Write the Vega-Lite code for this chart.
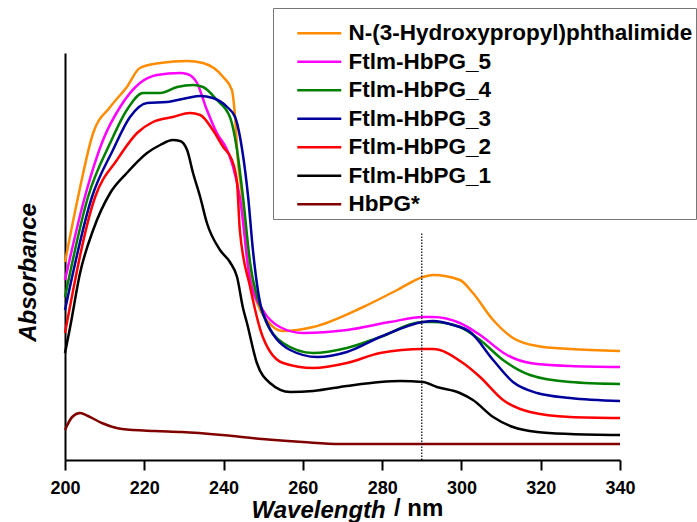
{
  "$schema": "https://vega.github.io/schema/vega-lite/v6.json",
  "width": 555,
  "height": 407,
  "autosize": "none",
  "padding": {"left": 65, "top": 53, "right": 77, "bottom": 62},
  "background": "white",
  "title": {
    "text": "/ nm",
    "orient": "bottom",
    "anchor": "start",
    "frame": "group",
    "dx": 329,
    "offset": -6,
    "baseline": "alphabetic",
    "font": "Liberation Sans",
    "fontSize": 24,
    "fontWeight": "bold",
    "fontStyle": "normal",
    "color": "black"
  },
  "config": {
    "view": {"stroke": null},
    "axis": {"grid": false, "domainColor": "black", "domainWidth": 2, "tickColor": "black", "tickWidth": 2,
      "labelFont": "Liberation Sans", "labelFontSize": 18, "labelFontWeight": "bold", "labelColor": "black",
      "titleFont": "Liberation Sans", "titleFontSize": 24, "titleFontWeight": "bold", "titleFontStyle": "italic", "titleColor": "black"}
  },
  "datasets": {
    "spectra": [
      {"s": "N-(3-Hydroxypropyl)phthalimide", "w": 200, "a": 0.99},
      {"s": "N-(3-Hydroxypropyl)phthalimide", "w": 203.3, "a": 1.315},
      {"s": "N-(3-Hydroxypropyl)phthalimide", "w": 207.1, "a": 1.635},
      {"s": "N-(3-Hydroxypropyl)phthalimide", "w": 211.4, "a": 1.765},
      {"s": "N-(3-Hydroxypropyl)phthalimide", "w": 215.6, "a": 1.865},
      {"s": "N-(3-Hydroxypropyl)phthalimide", "w": 218.9, "a": 1.96},
      {"s": "N-(3-Hydroxypropyl)phthalimide", "w": 224.0, "a": 1.985},
      {"s": "N-(3-Hydroxypropyl)phthalimide", "w": 230.8, "a": 1.995},
      {"s": "N-(3-Hydroxypropyl)phthalimide", "w": 234.8, "a": 1.985},
      {"s": "N-(3-Hydroxypropyl)phthalimide", "w": 239.9, "a": 1.915},
      {"s": "N-(3-Hydroxypropyl)phthalimide", "w": 242.1, "a": 1.85},
      {"s": "N-(3-Hydroxypropyl)phthalimide", "w": 242.9, "a": 1.715},
      {"s": "N-(3-Hydroxypropyl)phthalimide", "w": 243.6, "a": 1.5},
      {"s": "N-(3-Hydroxypropyl)phthalimide", "w": 244.7, "a": 1.315},
      {"s": "N-(3-Hydroxypropyl)phthalimide", "w": 245.9, "a": 1.015},
      {"s": "N-(3-Hydroxypropyl)phthalimide", "w": 247.4, "a": 0.85},
      {"s": "N-(3-Hydroxypropyl)phthalimide", "w": 248.4, "a": 0.79},
      {"s": "N-(3-Hydroxypropyl)phthalimide", "w": 252.5, "a": 0.665},
      {"s": "N-(3-Hydroxypropyl)phthalimide", "w": 255.0, "a": 0.645},
      {"s": "N-(3-Hydroxypropyl)phthalimide", "w": 262.6, "a": 0.665},
      {"s": "N-(3-Hydroxypropyl)phthalimide", "w": 275.2, "a": 0.765},
      {"s": "N-(3-Hydroxypropyl)phthalimide", "w": 283.8, "a": 0.85},
      {"s": "N-(3-Hydroxypropyl)phthalimide", "w": 290.3, "a": 0.915},
      {"s": "N-(3-Hydroxypropyl)phthalimide", "w": 292.8, "a": 0.925},
      {"s": "N-(3-Hydroxypropyl)phthalimide", "w": 299.6, "a": 0.9},
      {"s": "N-(3-Hydroxypropyl)phthalimide", "w": 302.9, "a": 0.835},
      {"s": "N-(3-Hydroxypropyl)phthalimide", "w": 308.0, "a": 0.7},
      {"s": "N-(3-Hydroxypropyl)phthalimide", "w": 313.0, "a": 0.61},
      {"s": "N-(3-Hydroxypropyl)phthalimide", "w": 319.1, "a": 0.57},
      {"s": "N-(3-Hydroxypropyl)phthalimide", "w": 327.4, "a": 0.555},
      {"s": "N-(3-Hydroxypropyl)phthalimide", "w": 340, "a": 0.545},

      {"s": "Ftlm-HbPG_5", "w": 200, "a": 0.9},
      {"s": "Ftlm-HbPG_5", "w": 205.0, "a": 1.315},
      {"s": "Ftlm-HbPG_5", "w": 209.6, "a": 1.6},
      {"s": "Ftlm-HbPG_5", "w": 213.9, "a": 1.765},
      {"s": "Ftlm-HbPG_5", "w": 218.9, "a": 1.885},
      {"s": "Ftlm-HbPG_5", "w": 223.2, "a": 1.925},
      {"s": "Ftlm-HbPG_5", "w": 229.0, "a": 1.935},
      {"s": "Ftlm-HbPG_5", "w": 230.8, "a": 1.93},
      {"s": "Ftlm-HbPG_5", "w": 233.3, "a": 1.885},
      {"s": "Ftlm-HbPG_5", "w": 235.8, "a": 1.75},
      {"s": "Ftlm-HbPG_5", "w": 238.3, "a": 1.635},
      {"s": "Ftlm-HbPG_5", "w": 240.9, "a": 1.55},
      {"s": "Ftlm-HbPG_5", "w": 242.4, "a": 1.465},
      {"s": "Ftlm-HbPG_5", "w": 244.1, "a": 1.315},
      {"s": "Ftlm-HbPG_5", "w": 246.7, "a": 0.9},
      {"s": "Ftlm-HbPG_5", "w": 249.9, "a": 0.75},
      {"s": "Ftlm-HbPG_5", "w": 254.2, "a": 0.665},
      {"s": "Ftlm-HbPG_5", "w": 260.0, "a": 0.635},
      {"s": "Ftlm-HbPG_5", "w": 271.1, "a": 0.65},
      {"s": "Ftlm-HbPG_5", "w": 282.0, "a": 0.69},
      {"s": "Ftlm-HbPG_5", "w": 290.3, "a": 0.715},
      {"s": "Ftlm-HbPG_5", "w": 292.8, "a": 0.715},
      {"s": "Ftlm-HbPG_5", "w": 299.6, "a": 0.685},
      {"s": "Ftlm-HbPG_5", "w": 304.7, "a": 0.625},
      {"s": "Ftlm-HbPG_5", "w": 311.5, "a": 0.525},
      {"s": "Ftlm-HbPG_5", "w": 317.3, "a": 0.485},
      {"s": "Ftlm-HbPG_5", "w": 327.4, "a": 0.47},
      {"s": "Ftlm-HbPG_5", "w": 340, "a": 0.465},

      {"s": "Ftlm-HbPG_4", "w": 200, "a": 0.815},
      {"s": "Ftlm-HbPG_4", "w": 205.8, "a": 1.315},
      {"s": "Ftlm-HbPG_4", "w": 211.4, "a": 1.585},
      {"s": "Ftlm-HbPG_4", "w": 215.6, "a": 1.75},
      {"s": "Ftlm-HbPG_4", "w": 219.7, "a": 1.835},
      {"s": "Ftlm-HbPG_4", "w": 224.0, "a": 1.835},
      {"s": "Ftlm-HbPG_4", "w": 228.3, "a": 1.865},
      {"s": "Ftlm-HbPG_4", "w": 232.3, "a": 1.875},
      {"s": "Ftlm-HbPG_4", "w": 234.8, "a": 1.865},
      {"s": "Ftlm-HbPG_4", "w": 238.3, "a": 1.8},
      {"s": "Ftlm-HbPG_4", "w": 241.6, "a": 1.715},
      {"s": "Ftlm-HbPG_4", "w": 243.4, "a": 1.55},
      {"s": "Ftlm-HbPG_4", "w": 244.9, "a": 1.315},
      {"s": "Ftlm-HbPG_4", "w": 246.7, "a": 0.985},
      {"s": "Ftlm-HbPG_4", "w": 249.9, "a": 0.735},
      {"s": "Ftlm-HbPG_4", "w": 255.0, "a": 0.585},
      {"s": "Ftlm-HbPG_4", "w": 262.6, "a": 0.535},
      {"s": "Ftlm-HbPG_4", "w": 271.1, "a": 0.56},
      {"s": "Ftlm-HbPG_4", "w": 279.5, "a": 0.615},
      {"s": "Ftlm-HbPG_4", "w": 290.3, "a": 0.69},
      {"s": "Ftlm-HbPG_4", "w": 292.8, "a": 0.69},
      {"s": "Ftlm-HbPG_4", "w": 299.6, "a": 0.665},
      {"s": "Ftlm-HbPG_4", "w": 304.7, "a": 0.6},
      {"s": "Ftlm-HbPG_4", "w": 310.5, "a": 0.5},
      {"s": "Ftlm-HbPG_4", "w": 317.3, "a": 0.425},
      {"s": "Ftlm-HbPG_4", "w": 327.4, "a": 0.39},
      {"s": "Ftlm-HbPG_4", "w": 340, "a": 0.38},

      {"s": "Ftlm-HbPG_3", "w": 200, "a": 0.75},
      {"s": "Ftlm-HbPG_3", "w": 206.8, "a": 1.315},
      {"s": "Ftlm-HbPG_3", "w": 212.1, "a": 1.55},
      {"s": "Ftlm-HbPG_3", "w": 216.4, "a": 1.715},
      {"s": "Ftlm-HbPG_3", "w": 220.7, "a": 1.785},
      {"s": "Ftlm-HbPG_3", "w": 225.7, "a": 1.79},
      {"s": "Ftlm-HbPG_3", "w": 230.8, "a": 1.81},
      {"s": "Ftlm-HbPG_3", "w": 234.1, "a": 1.82},
      {"s": "Ftlm-HbPG_3", "w": 237.3, "a": 1.81},
      {"s": "Ftlm-HbPG_3", "w": 240.9, "a": 1.765},
      {"s": "Ftlm-HbPG_3", "w": 242.9, "a": 1.715},
      {"s": "Ftlm-HbPG_3", "w": 244.7, "a": 1.55},
      {"s": "Ftlm-HbPG_3", "w": 246.2, "a": 1.315},
      {"s": "Ftlm-HbPG_3", "w": 247.4, "a": 1.05},
      {"s": "Ftlm-HbPG_3", "w": 249.9, "a": 0.735},
      {"s": "Ftlm-HbPG_3", "w": 256.8, "a": 0.55},
      {"s": "Ftlm-HbPG_3", "w": 263.6, "a": 0.515},
      {"s": "Ftlm-HbPG_3", "w": 271.1, "a": 0.54},
      {"s": "Ftlm-HbPG_3", "w": 279.5, "a": 0.615},
      {"s": "Ftlm-HbPG_3", "w": 290.3, "a": 0.69},
      {"s": "Ftlm-HbPG_3", "w": 292.8, "a": 0.695},
      {"s": "Ftlm-HbPG_3", "w": 297.9, "a": 0.675},
      {"s": "Ftlm-HbPG_3", "w": 302.2, "a": 0.64},
      {"s": "Ftlm-HbPG_3", "w": 308.0, "a": 0.5},
      {"s": "Ftlm-HbPG_3", "w": 313.0, "a": 0.39},
      {"s": "Ftlm-HbPG_3", "w": 319.1, "a": 0.335},
      {"s": "Ftlm-HbPG_3", "w": 327.4, "a": 0.31},
      {"s": "Ftlm-HbPG_3", "w": 340, "a": 0.295},

      {"s": "Ftlm-HbPG_2", "w": 200, "a": 0.635},
      {"s": "Ftlm-HbPG_2", "w": 207.6, "a": 1.315},
      {"s": "Ftlm-HbPG_2", "w": 213.1, "a": 1.5},
      {"s": "Ftlm-HbPG_2", "w": 218.2, "a": 1.635},
      {"s": "Ftlm-HbPG_2", "w": 222.2, "a": 1.69},
      {"s": "Ftlm-HbPG_2", "w": 227.2, "a": 1.715},
      {"s": "Ftlm-HbPG_2", "w": 231.5, "a": 1.735},
      {"s": "Ftlm-HbPG_2", "w": 234.1, "a": 1.725},
      {"s": "Ftlm-HbPG_2", "w": 237.3, "a": 1.65},
      {"s": "Ftlm-HbPG_2", "w": 239.9, "a": 1.565},
      {"s": "Ftlm-HbPG_2", "w": 242.1, "a": 1.5},
      {"s": "Ftlm-HbPG_2", "w": 243.4, "a": 1.385},
      {"s": "Ftlm-HbPG_2", "w": 244.1, "a": 1.15},
      {"s": "Ftlm-HbPG_2", "w": 246.7, "a": 0.865},
      {"s": "Ftlm-HbPG_2", "w": 249.9, "a": 0.615},
      {"s": "Ftlm-HbPG_2", "w": 255.0, "a": 0.485},
      {"s": "Ftlm-HbPG_2", "w": 262.6, "a": 0.46},
      {"s": "Ftlm-HbPG_2", "w": 271.1, "a": 0.485},
      {"s": "Ftlm-HbPG_2", "w": 279.5, "a": 0.535},
      {"s": "Ftlm-HbPG_2", "w": 290.3, "a": 0.555},
      {"s": "Ftlm-HbPG_2", "w": 292.8, "a": 0.555},
      {"s": "Ftlm-HbPG_2", "w": 300.4, "a": 0.485},
      {"s": "Ftlm-HbPG_2", "w": 304.7, "a": 0.415},
      {"s": "Ftlm-HbPG_2", "w": 310.5, "a": 0.3},
      {"s": "Ftlm-HbPG_2", "w": 317.3, "a": 0.24},
      {"s": "Ftlm-HbPG_2", "w": 327.4, "a": 0.215},
      {"s": "Ftlm-HbPG_2", "w": 340, "a": 0.21},

      {"s": "Ftlm-HbPG_1", "w": 200, "a": 0.535},
      {"s": "Ftlm-HbPG_1", "w": 201.3, "a": 0.665},
      {"s": "Ftlm-HbPG_1", "w": 203.8, "a": 0.935},
      {"s": "Ftlm-HbPG_1", "w": 207.1, "a": 1.15},
      {"s": "Ftlm-HbPG_1", "w": 211.4, "a": 1.335},
      {"s": "Ftlm-HbPG_1", "w": 215.6, "a": 1.435},
      {"s": "Ftlm-HbPG_1", "w": 220.7, "a": 1.535},
      {"s": "Ftlm-HbPG_1", "w": 224.0, "a": 1.575},
      {"s": "Ftlm-HbPG_1", "w": 227.2, "a": 1.6},
      {"s": "Ftlm-HbPG_1", "w": 229.0, "a": 1.595},
      {"s": "Ftlm-HbPG_1", "w": 230.8, "a": 1.55},
      {"s": "Ftlm-HbPG_1", "w": 232.3, "a": 1.435},
      {"s": "Ftlm-HbPG_1", "w": 234.1, "a": 1.315},
      {"s": "Ftlm-HbPG_1", "w": 235.8, "a": 1.185},
      {"s": "Ftlm-HbPG_1", "w": 239.1, "a": 1.05},
      {"s": "Ftlm-HbPG_1", "w": 241.6, "a": 0.99},
      {"s": "Ftlm-HbPG_1", "w": 243.4, "a": 0.915},
      {"s": "Ftlm-HbPG_1", "w": 244.9, "a": 0.76},
      {"s": "Ftlm-HbPG_1", "w": 245.9, "a": 0.685},
      {"s": "Ftlm-HbPG_1", "w": 248.4, "a": 0.485},
      {"s": "Ftlm-HbPG_1", "w": 251.7, "a": 0.385},
      {"s": "Ftlm-HbPG_1", "w": 256.8, "a": 0.34},
      {"s": "Ftlm-HbPG_1", "w": 262.6, "a": 0.345},
      {"s": "Ftlm-HbPG_1", "w": 271.1, "a": 0.37},
      {"s": "Ftlm-HbPG_1", "w": 279.5, "a": 0.39},
      {"s": "Ftlm-HbPG_1", "w": 284.5, "a": 0.395},
      {"s": "Ftlm-HbPG_1", "w": 290.3, "a": 0.39},
      {"s": "Ftlm-HbPG_1", "w": 293.8, "a": 0.365},
      {"s": "Ftlm-HbPG_1", "w": 299.6, "a": 0.335},
      {"s": "Ftlm-HbPG_1", "w": 302.9, "a": 0.3},
      {"s": "Ftlm-HbPG_1", "w": 308.0, "a": 0.215},
      {"s": "Ftlm-HbPG_1", "w": 313.0, "a": 0.165},
      {"s": "Ftlm-HbPG_1", "w": 319.1, "a": 0.14},
      {"s": "Ftlm-HbPG_1", "w": 327.4, "a": 0.13},
      {"s": "Ftlm-HbPG_1", "w": 340, "a": 0.125},

      {"s": "HbPG*", "w": 200, "a": 0.15},
      {"s": "HbPG*", "w": 201.8, "a": 0.215},
      {"s": "HbPG*", "w": 203.8, "a": 0.235},
      {"s": "HbPG*", "w": 205.8, "a": 0.22},
      {"s": "HbPG*", "w": 209.3, "a": 0.185},
      {"s": "HbPG*", "w": 214.4, "a": 0.155},
      {"s": "HbPG*", "w": 222.7, "a": 0.145},
      {"s": "HbPG*", "w": 229.5, "a": 0.14},
      {"s": "HbPG*", "w": 239.6, "a": 0.125},
      {"s": "HbPG*", "w": 249.7, "a": 0.105},
      {"s": "HbPG*", "w": 260.0, "a": 0.09},
      {"s": "HbPG*", "w": 269.4, "a": 0.08},
      {"s": "HbPG*", "w": 277.7, "a": 0.08},
      {"s": "HbPG*", "w": 340, "a": 0.08}
    ],
    "marker": [{"w": 290, "a": 0, "a2": 1.135}]
  },
  "layer": [
    {
      "data": {"name": "spectra"},
      "mark": {"type": "line", "strokeWidth": 2.5, "interpolate": "monotone"},
      "encoding": {
        "x": {
          "field": "w", "type": "quantitative",
          "scale": {"domain": [200, 340], "nice": false, "zero": false},
          "axis": {
            "title": "Wavelength",
            "titleX": 186, "titleY": 57, "titleAlign": "left", "titleBaseline": "alphabetic",
            "values": [200, 210, 220, 230, 240, 250, 260, 270, 280, 290, 300, 310, 320, 330, 340],
            "labelExpr": "datum.value % 20 == 0 ? datum.label : ''",
            "tickSize": {"condition": {"test": "datum.value % 20 == 0", "value": 10}, "value": 6},
            "labelPadding": 9,
            "labelFlush": false,
            "labelOverlap": false
          }
        },
        "y": {
          "field": "a", "type": "quantitative",
          "scale": {"domain": [0, 2.035], "nice": false},
          "axis": {
            "title": "Absorbance", "ticks": false, "labels": false,
            "titleAngle": -90, "titleX": -30, "titleY": 219, "titleAlign": "center", "titleBaseline": "alphabetic"
          }
        },
        "color": {
          "field": "s", "type": "nominal",
          "scale": {
            "domain": ["N-(3-Hydroxypropyl)phthalimide", "Ftlm-HbPG_5", "Ftlm-HbPG_4", "Ftlm-HbPG_3", "Ftlm-HbPG_2", "Ftlm-HbPG_1", "HbPG*"],
            "range": ["#ff8c00", "#ff00ff", "#008000", "#00009c", "#ff0000", "#000000", "#800000"]
          },
          "legend": {
            "title": " ", "titleFontSize": 9, "titlePadding": 2,
            "orient": "none", "legendX": 208, "legendY": -45,
            "symbolType": "M-4,0H4", "symbolSize": 121, "symbolStrokeWidth": 2.5,
            "labelFont": "Liberation Sans", "labelFontSize": 22.5, "labelFontWeight": "bold", "labelColor": "black",
            "labelLimit": 600,
            "strokeColor": "#777777", "fillColor": "white",
            "padding": 3, "rowPadding": 5.5, "symbolOffset": 32, "labelOffset": 18
          }
        }
      }
    },
    {
      "data": {"name": "marker"},
      "mark": {"type": "rule", "color": "black", "strokeWidth": 1.2, "strokeDash": [1.5, 1.5]},
      "encoding": {
        "x": {"field": "w", "type": "quantitative"},
        "y": {"field": "a", "type": "quantitative"},
        "y2": {"field": "a2"}
      }
    }
  ]
}
